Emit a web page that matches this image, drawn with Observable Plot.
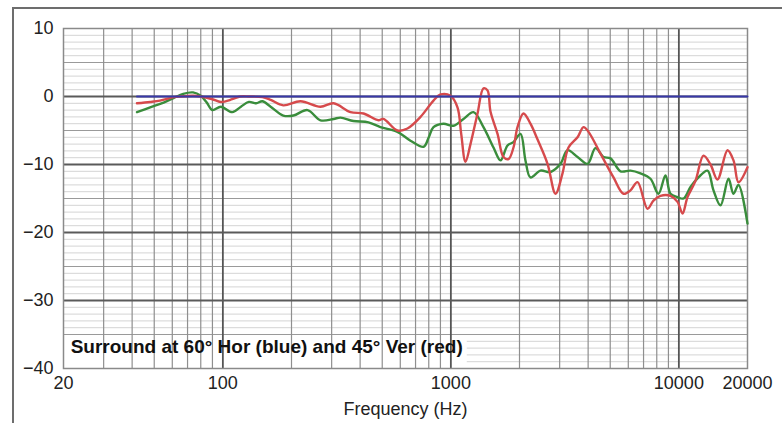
<!DOCTYPE html>
<html>
<head>
<meta charset="utf-8">
<script src="https://cdn.jsdelivr.net/npm/d3@7"></script>
<script src="https://cdn.jsdelivr.net/npm/@observablehq/plot@0.6"></script>
<style>
  html, body { margin: 0; padding: 0; background: #fff; }
  #wrap { position: relative; width: 782px; height: 423px; overflow: hidden; }
  #border { position: absolute; left: 12px; top: 7px; right: -4px; bottom: -4px;
            border-top: 2px solid #6d6d6d; border-left: 2px solid #6d6d6d; }
  #chart { position: absolute; left: 0; top: 0; }
</style>
</head>
<body>
<div id="wrap"><div id="border"></div><div id="chart"></div></div>
<script>
// Surround speaker off-axis response, relative to the 60° horizontal curve
const xTicks = [20, 100, 1000, 10000, 20000];
const yTicks = [-40, -30, -20, -10, 0, 10];

// 60° horizontal (reference, flat)
const blueHz = [42, 20000];
const blueDb = [0, 0];

// 45° vertical
const redHz = [42, 48, 53, 61, 65, 74, 80, 90, 98, 110, 119, 130, 149, 162, 184, 219, 268, 306, 363, 414, 481, 506, 583, 645, 736, 839, 901, 996, 1069, 1110, 1159, 1219, 1309, 1390, 1448, 1492, 1602, 1702, 1790, 1882, 1960, 2082, 2234, 2398, 2654, 2878, 3088, 3280, 3594, 3818, 4016, 4532, 5168, 5716, 6136, 6586, 7284, 7738, 8306, 9190, 9864, 10374, 10912, 11830, 12824, 13764, 14772, 16344, 17364, 18258, 20000];
const redDb = [-1.0, -0.8, -0.6, -0.1, 0.0, 0.1, 0.0, -0.4, -0.8, -0.4, 0.0, 0.0, -0.1, -0.5, -1.3, -0.7, -1.5, -1.0, -2.3, -2.5, -3.5, -3.3, -5.0, -4.7, -3.0, -0.6, 0.3, 0.1, -1.6, -5.5, -9.6, -7.0, -2.5, 1.2, 0.9, -2.2, -5.5, -8.9, -9.2, -7.5, -4.5, -2.5, -4.0, -6.3, -9.9, -14.3, -11.3, -7.5, -6.0, -4.5, -5.2, -8.4, -11.9, -14.3, -13.8, -12.6, -16.5, -15.3, -14.6, -14.6, -15.5, -17.2, -14.8, -12.4, -8.7, -10.0, -12.2, -7.9, -9.4, -12.6, -10.4];

// 45° vertical, second measurement
const greenHz = [42, 48, 55, 61, 67, 74, 80, 85, 90, 98, 110, 120, 130, 140, 149, 162, 184, 204, 235, 268, 306, 328, 374, 435, 491, 583, 665, 759, 800, 839, 928, 1027, 1136, 1257, 1390, 1538, 1651, 1772, 1882, 2020, 2124, 2234, 2472, 2736, 3026, 3248, 3594, 3976, 4308, 4672, 5012, 5546, 6136, 6788, 7508, 8138, 8736, 9190, 9864, 10480, 11246, 12194, 13352, 14188, 15228, 16510, 17364, 18258, 20000];
const greenDb = [-2.3, -1.6, -0.9, -0.2, 0.4, 0.6, 0.1, -0.9, -2.0, -1.5, -2.3, -1.5, -0.8, -1.0, -0.7, -1.5, -2.8, -2.8, -2.0, -3.5, -3.3, -3.1, -3.6, -3.8, -4.5, -5.2, -6.5, -7.4, -6.0, -4.5, -4.0, -4.3, -3.3, -2.3, -4.5, -7.5, -9.4, -7.2, -6.7, -5.5, -9.4, -11.9, -10.9, -11.1, -9.9, -7.9, -8.9, -9.9, -7.6, -8.9, -9.1, -11.0, -10.9, -11.3, -12.1, -14.3, -11.6, -14.3, -14.8, -15.0, -13.3, -11.9, -10.9, -13.8, -16.0, -12.1, -14.3, -13.0, -18.7];

const annotation = "Surround at 60° Hor (blue) and 45° Ver (red)";

// grid line positions
const xMinor = [30, 40, 50, 60, 70, 80, 90, 200, 300, 400, 500, 600, 700, 800, 900,
                2000, 3000, 4000, 5000, 6000, 7000, 8000, 9000];
const xMajor = [100, 1000, 10000];
const yMajor = [-30, -20, -10, 0];
const yMid = [-35, -25, -15, -5, 5];
const yMinor = d3.range(-40, 11).filter(v => v % 5 !== 0);

const series = (hz, db) => hz.map((f, i) => ({f, db: db[i]}));
const red = series(redHz, redDb);
const green = series(greenHz, greenDb);
const blue = series(blueHz, blueDb);

const chart = Plot.plot({
  width: 782,
  height: 423,
  marginLeft: 63,
  marginRight: 35,
  marginTop: 28,
  marginBottom: 55,
  style: {fontFamily: "'Liberation Sans', Arial, Helvetica, sans-serif", fontSize: "18px", color: "#222", background: "transparent"},
  x: {type: "log", domain: [20, 20000], ticks: xTicks, tickFormat: d => String(d), tickSize: 0, tickPadding: 8,
      label: "Frequency (Hz)", labelAnchor: "center", labelArrow: "none", labelOffset: 46},
  y: {domain: [-40, 10], ticks: yTicks, tickSize: 0, tickPadding: 10, label: null},
  marks: [
    Plot.ruleY(yMinor, {stroke: "#d4d4d4", strokeWidth: 1}),
    Plot.rect([0], {x1: 20, x2: 1180, y1: -40, y2: -35, fill: "white"}),
    Plot.ruleY(yMid, {stroke: "#9a9a9a", strokeWidth: 1.2}),
    Plot.ruleX(xMinor, {stroke: "#8f8f8f", strokeWidth: 1.2}),
    Plot.ruleX(xMajor, {stroke: "#555", strokeWidth: 1.8}),
    Plot.ruleY(yMajor, {stroke: "#5a5a5a", strokeWidth: 1.8}),
    Plot.frame({stroke: "#8a8a8a", strokeWidth: 1.5}),
    Plot.line(green, {x: "f", y: "db", stroke: "#3a8d3c", strokeWidth: 2.4, curve: "catmull-rom"}),
    Plot.line(red, {x: "f", y: "db", stroke: "#d64a4c", strokeWidth: 2.4, curve: "catmull-rom"}),
    Plot.line(blue, {x: "f", y: "db", stroke: "#3838a8", strokeWidth: 2}),
    Plot.text([annotation], {x: 21.5, y: -36.8, text: d => d, textAnchor: "start", lineAnchor: "middle",
      fontWeight: "bold", fontSize: 19, fill: "#111"})
  ]
});
document.getElementById("chart").append(chart);
</script>
</body>
</html>
